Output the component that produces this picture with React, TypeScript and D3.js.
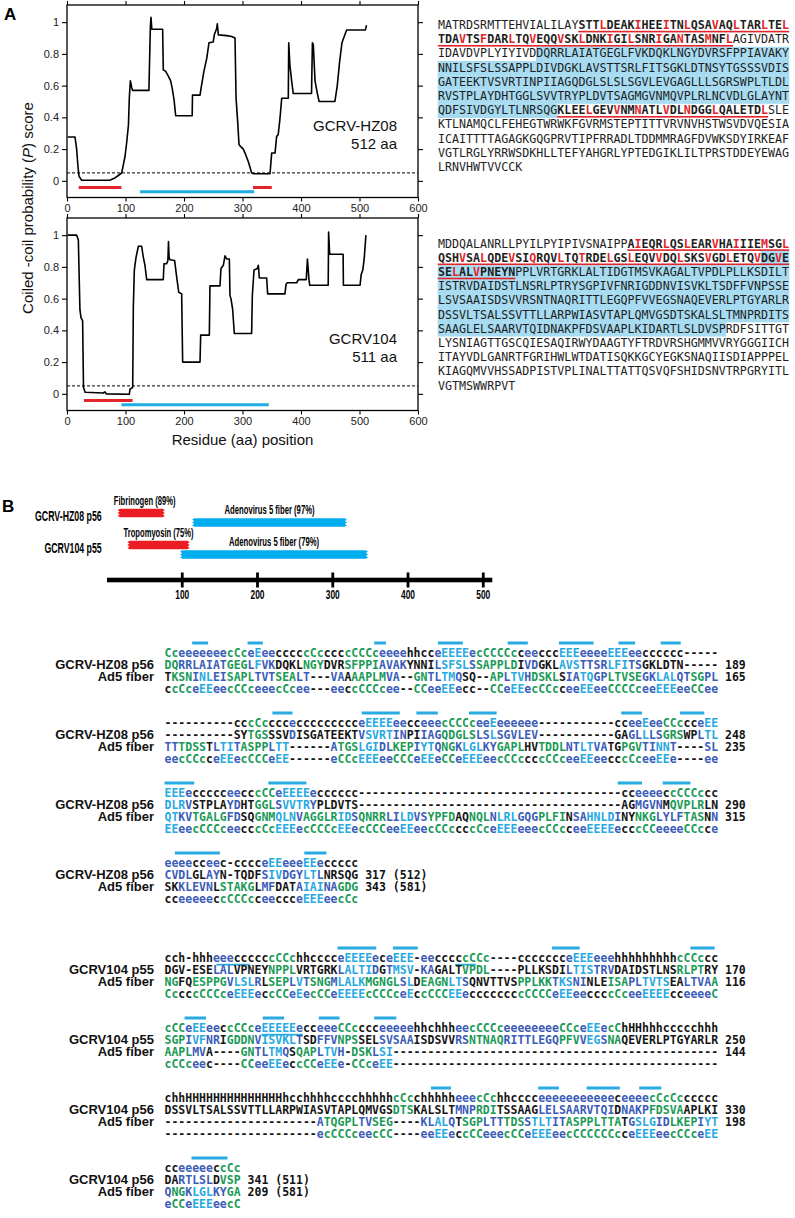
import React, { useEffect, useRef } from 'react';
import * as d3 from 'd3';

const SANS = "'Liberation Sans', Arial, Helvetica, sans-serif";
const NARROW = "'Liberation Sans Narrow', 'Liberation Sans', Arial, sans-serif";
const MONO = "'DejaVu Sans Mono', monospace";

const RED = '#e3242b';
const BLUE = '#1eade4';
const HILITE = '#a6dbf1';
const BARBLUE = '#29abe2';

// ---------- panel A: coiled-coil probability profiles ----------
const xTicks = [0, 100, 200, 300, 400, 500, 600];
const yTicks = [0, 0.2, 0.4, 0.6, 0.8, 1];
const cutoff = 0.05;

const hz08Profile: [number, number][] = [
  [1, 0.276], [13.7, 0.276], [16.5, 0.2], [18.5, 0.1], [20.5, 0.03], [25, 0.004], [73, 0.004],
  [82, 0.018], [90, 0.04], [93.5, 0.05], [99, 0.15], [102, 0.24], [105, 0.35], [106.5, 0.52],
  [108.3, 0.63], [110.5, 0.59], [112, 0.57], [140, 0.57], [142.5, 0.97], [143.6, 1.03], [145, 0.955],
  [163.5, 0.955], [164.6, 0.7], [168.7, 0.69], [173.2, 0.66], [177.2, 0.63], [180, 0.58], [183, 0.51],
  [185.8, 0.41], [214, 0.41], [214.5, 0.54], [227.4, 0.54], [229, 0.58], [231.3, 0.63], [234, 0.69],
  [238.8, 0.77], [242.7, 0.87], [250, 0.875], [251.8, 0.92], [255.8, 0.96], [257, 0.99], [258.7, 0.92],
  [273, 0.915], [281.5, 0.91], [287.2, 0.9], [289, 0.52], [291.8, 0.37], [294, 0.23], [295.7, 0.22],
  [301.4, 0.2], [304.3, 0.175], [310, 0.12], [315.7, 0.05], [318.5, 0.045], [347, 0.045], [349.9, 0.175],
  [355.6, 0.175], [358.4, 0.28], [361, 0.29], [364, 0.39], [367, 0.52], [378.3, 0.52], [379, 0.87],
  [381, 0.73], [384, 0.63], [386.8, 0.55], [418, 0.55], [419.5, 0.87], [421, 0.86], [424, 0.63],
  [428, 0.55], [431, 0.5], [458, 0.5], [462, 0.6], [466, 0.75], [470, 0.87], [478, 0.95], [510, 0.95],
  [512, 0.98],
];

const gcrv104Profile: [number, number][] = [
  [1, 1.0], [16.5, 1.0], [19.4, 0.97], [22.1, 0.53], [23.9, 0.48], [26.7, 0.46], [28.2, 0.04], [31, 0.01],
  [62, 0.005], [64.9, 0.012], [67, 0.0], [106.5, -0.003], [107.7, 0.03], [112.3, 0.04], [113.4, 0.55],
  [115.1, 0.78], [118, 0.86], [122, 0.93], [127.6, 0.93], [130.5, 0.86], [133.3, 0.81], [136.2, 0.72],
  [164.6, 0.72], [165.8, 0.82], [170.3, 0.82], [172.5, 0.84], [173.5, 0.96], [174.5, 0.86], [176, 0.845],
  [184, 0.84], [187, 0.75], [191, 0.64], [196, 0.63], [197.7, 0.2], [227.4, 0.2], [228.5, 0.37],
  [243.3, 0.37], [244.4, 0.68], [261.5, 0.68], [263.2, 0.79], [267.2, 0.81], [270.1, 0.87], [273, 0.85],
  [277.5, 0.85], [278.6, 0.62], [280.3, 0.6], [283.2, 0.53], [286, 0.38], [315.6, 0.38], [316.8, 0.62],
  [319.7, 0.78], [325.4, 0.79], [327.1, 0.81], [328.8, 0.73], [341.3, 0.73], [343, 0.63], [372.6, 0.63],
  [374.4, 0.69], [376.6, 0.7], [392.6, 0.7], [395.5, 0.72], [409, 0.72], [411, 0.85], [413.6, 0.72],
  [415, 0.684], [446.5, 0.684], [447.2, 1.02], [449, 0.88], [472, 0.88], [472.5, 0.684], [501, 0.684],
  [502.8, 0.75], [505.6, 0.78], [508, 0.85], [511, 1.0],
];

const hz08Segments = [
  { start: 20, end: 93, kind: 'coil' },
  { start: 318, end: 350, kind: 'coil' },
  { start: 125, end: 320, kind: 'fiber' },
];
const gcrv104Segments = [
  { start: 29, end: 112, kind: 'coil' },
  { start: 93, end: 345, kind: 'fiber' },
];

// ---------- panel A: sequences ----------
const hz08Lines = [
  'MATRDSRMTTEHVIALILAYSTTLDEAKIHEEITNLQSAVAQLTARLTEL',
  'TDAVTSFDARLTQVEQQVSKLDNKIGILSNRIGANTASMNFLAGIVDATR',
  'IDAVDVPLYIYIVDDQRRLAIATGEGLFVKDQKLNGYDVRSFPPIAVAKY',
  'NNILSFSLSSAPPLDIVDGKLAVSTTSRLFITSGKLDTNSYTGSSSVDIS',
  'GATEEKTVSVRTINPIIAGQDGLSLSLSGVLEVGAGLLLSGRSWPLTLDL',
  'RVSTPLAYDHTGGLSVVTRYPLDVTSAGMGVNMQVPLRLNCVDLGLAYNT',
  'QDFSIVDGYLTLNRSQGKLEELGEVVNMNATLVDLNDGGLQALETDLSLE',
  'KTLNAMQCLFEHEGTWRWKFGVRMSTEPTITTVRVNVHSTWSVDVQESIA',
  'ICAITTTTAGAGKGQGPRVTIPFRRADLTDDMMRAGFDVWKSDYIRKEAF',
  'VGTLRGLYRRWSDKHLLTEFYAHGRLYPTEDGIKLILTPRSTDDEYEWAG',
  'LRNVHWTVVCCK',
];
const hz08Coil: [number, number][] = [[20, 91], [317, 346]];
const hz08Fiber: [number, number][] = [[114, 316]];
const hz08Heptad = [23, 28, 32, 35, 39, 42, 46, 49, 53, 56, 60, 63, 67, 70, 74, 77, 81, 84, 88, 91,
  321, 325, 328, 332, 335, 339, 346];

const gcrv104Lines = [
  'MDDQALANRLLPYILPYIPIVSNAIPPAIEQRLQSLEARVHAIIIEMSGL',
  'QSHVSALQDEVSIQRQVLTQTRDELGSLEQVVDQLSKSVGDLETQVDGVE',
  'SELALVPNEYNPPLVRTGRKLALTIDGTMSVKAGALTVPDLPLLKSDILT',
  'ISTRVDAIDSTLNSRLPTRYSGPIVFNRIGDDNVISVKLTSDFFVNPSSE',
  'LSVSAAISDSVVRSNTNAQRITTLEGQPFVVEGSNAQEVERLPTGYARLR',
  'DSSVLTSALSSVTTLLARPWIASVTAPLQMVGSDTSKALSLTMNPRDITS',
  'SAAGLELSAARVTQIDNAKPFDSVAAPLKIDARTLSLDVSPRDFSITTGT',
  'LYSNIAGTTGSCQIESAQIRWYDAAGTYFTRDVRSHGMMVVRYGGGIICH',
  'ITAYVDLGANRTFGRIHWLWTDATISQKKGCYEGKSNAQIISDIAPPPEL',
  'KIAGQMVVHSSADPISTVPLINALTTATTQSVQFSHIDSNVTRPGRYITL',
  'VGTMSWWRPVT',
];
const gcrv104Coil: [number, number][] = [[27, 110]];
const gcrv104Fiber: [number, number][] = [[96, 340]];
const gcrv104Heptad = [28, 32, 35, 39, 42, 46, 49, 53, 56, 60, 63, 67, 70, 74, 77, 81, 84, 88, 91, 95, 98,
  102, 105];

// ---------- panel B: domain map ----------
const domainTicks = [100, 200, 300, 400, 500];
const domainRows = ['GCRV-HZ08 p56', 'GCRV104 p55'];
const hz08Domains = [
  { name: 'Fibrinogen (89%)', start: 17, end: 74, kind: 'coil' },
  { name: 'Adenovirus 5 fiber (97%)', start: 116, end: 316, kind: 'fiber' },
];
const gcrv104Domains = [
  { name: 'Tropomyosin (75%)', start: 30, end: 107, kind: 'coil' },
  { name: 'Adenovirus 5 fiber (79%)', start: 100, end: 344, kind: 'fiber' },
];

// ---------- panel B: alignments ----------
type Block = { ss1: string; seq1: string; seq2: string; ss2: string; n1: string; n2: string;
  bars: [number, number][]; under?: [number, number][]; label1: string };

const hz08Blocks: Block[] = [
  {
    ss1: ['Cceeeeeeec', 'CceEeecccc', 'cCcccccCCC', 'ceeeehhcce', 'EEEEecCCCC', 'cceecccEEE', 'eeeeEEEeec', 'ccccc-----'].join(''),
    seq1: 'DQRRLAIATGEGLFVKDQKLNGYDVRSFPPIAVAKYNNILSFSLSSAPPLDIVDGKLAVSTTSRLFITSGKLDTN-----',
    seq2: 'TKSNINLEISAPLTVTSEALT---VAAAAPLMVA--GNTLTMQSQ--APLTVHDSKLSIATQGPLTVSEGKLALQTSGPL',
    ss2: ['ccCceEEeec', 'CCceeecCce', 'e---eeccCC', 'Ccee--CCee', 'EEecc--CCe', 'EEecCCccee', 'EEeeCCCCce', 'eEEEeeCCee'].join(''),
    n1: '189', n2: '165', label1: 'GCRV-HZ08 p56',
    bars: [[4, 6.3], [12, 14.2], [30.3, 32], [39.5, 43.1], [49.6, 52.5], [57, 62], [65.6, 68], [71.7, 74.6]],
  },
  {
    ss1: ['----------', 'cccCccccec', 'cccccccceE', 'EEEeecceee', 'cCCCceeEee', 'eeee------', '-----cceeE', 'eeCCccceEE'].join(''),
    seq1: '----------SYTGSSSVDISGATEEKTVSVRTINPIIAGQDGLSLSLSGVLEV-----------GAGLLLSGRSWPLTL',
    seq2: 'TTTDSSTLTITASPPLTT------ATGSLGIDLKEPIYTQNGKLGLKYGAPLHVTDDLNTLTVATGPGVTINNT----SL',
    ss2: ['eecCCcceEE', 'ecCCCeEE--', '----eCCcEE', 'EeeCCCeEEe', 'CCeEEEeecC', 'CccccCCcee', 'EEeecccCce', 'eEEe----ee'].join(''),
    n1: '248', n2: '235', label1: 'GCRV-HZ08 p56',
    bars: [[15.6, 18.5], [28.5, 34], [36.4, 39.5], [44, 48], [66, 69], [74.5, 78]],
  },
  {
    ss1: ['EEEeccccce', 'ecccCCeEEE', 'Eecccccc--', '----------', '----------', '----------', '------ccee', 'eeccCCCccc'].join(''),
    seq1: 'DLRVSTPLAYDHTGGLSVVTRYPLDVTS--------------------------------------AGMGVNMQVPLRLN',
    seq2: 'QTKVTGALGFDSQGNMQLNVAGGLRIDSQNRRLILDVSYPFDAQNQLNLRLGQGPLFINSAHNLDINYNKGLYLFTASNN',
    ss2: ['EEeecCCCce', 'ecccCcEEEe', 'cCCCcEEecC', 'CCeeEEeecC', 'CccccCceEE', 'EeeecCCcce', 'eEEEEecccC', 'CeeeeCCcce'].join(''),
    n1: '290', n2: '315', label1: 'GCRV-HZ08 p56',
    bars: [[0, 4.3], [15, 20.5], [65.5, 69], [72, 76]],
  },
  {
    ss1: 'eeeecceec-cccceEEeeeEEeccccc',
    seq1: 'CVDLGLAYN-TQDFSIVDGYLTLNRSQG',
    seq2: 'SKKLEVNLSTAKGLMFDATAIAINAGDG',
    ss2: 'cceeeeeccCCCcceeccceEEEeecCc',
    n1: '317 (512)', n2: '343 (581)', label1: 'GCRV-HZ08 p56',
    bars: [[1.5, 8], [20.2, 23.4]],
  },
];

const gcrv104Blocks: Block[] = [
  {
    ss1: ['cch-hhheee', 'ccccccCCch', 'hcccceEEEE', 'eceEEE-eec', 'ccccCCc---', '-ccccccceE', 'EEeeehhhhh', 'hhhhcCCccc'].join(''),
    seq1: 'DGV-ESELALVPNEYNPPLVRTGRKLALTIDGTMSV-KAGALTVPDL----PLLKSDILTISTRVDAIDSTLNSRLPTRY',
    seq2: 'NGFQESPPGVLSLRLSEPLVTSNGMLALKMGNGLSLDEAGNLTSQNVTTVSPPLKKTKSNINLEISAPLTVTSEALTVAA',
    ss2: ['CccccCCCce', 'EEEeccCCeE', 'ecCCeEEEEc', 'CCCceEccCC', 'CEEecccccc', 'ccCCCCeEEe', 'eccccCceeE', 'EEEcceeeeC'].join(''),
    n1: '170', n2: '116', label1: 'GCRV104 p55',
    bars: [[25, 30.6], [33, 36.6], [56, 60], [76, 79.5]],
    under: [[7.5, 12.3], [42, 45]],
  },
  {
    ss1: ['cCCeEEeecc', 'CCceEEEEEe', 'cceeeCCccc', 'ceeeeehhch', 'hheecCCCce', 'eeeeeeeCCc', 'eEEecChHHh', 'hhccccchhh'].join(''),
    seq1: 'SGPIVFNRIGDDNVISVKLTSDFFVNPSSELSVSAAISDSVVRSNTNAQRITTLEGQPFVVEGSNAQEVERLPTGYARLR',
    seq2: ['AAPLMVA---', '-GNTLTMQSQ', 'APLTVH-DSK', 'LSI-------', '----------', '----------', '----------', '----------'].join(''),
    ss2: ['cCCceec---', '-CCeeEEecc', 'CCeEEe-CCc', 'eEE-------', '----------', '----------', '----------', '----------'].join(''),
    n1: '250', n2: '144', label1: 'GCRV104 p55',
    bars: [[2.9, 6], [14.2, 17.3], [22.3, 25.3], [30.3, 33.5]],
    under: [[14, 20]],
  },
  {
    ss1: ['chhHHHHHHH', 'HHHHHHHhcc', 'hhhhcccchh', 'hhhcCcchhh', 'hheeecCchh', 'cccceeeeee', 'eeeeeceeee', 'cCcCcccccc'].join(''),
    seq1: 'DSSVLTSALSSVTTLLARPWIASVTAPLQMVGSDTSKALSLTMNPRDITSSAAGLELSAARVTQIDNAKPFDSVAAPLKI',
    seq2: ['----------', '----------', '--ATQGPLTV', 'SEG----KLA', 'LQTSGPLTTT', 'DSSTLTITAS', 'PPLTTATGSL', 'GIDLKEPIYT'].join(''),
    ss2: ['----------', '----------', '--ecCCCcee', 'cCC----eeE', 'EeccCCeeec', 'CCeEEEeecC', 'CCCCCcceEE', 'EeecCCceEE'].join(''),
    n1: '330', n2: '198', label1: 'GCRV104 p56',
    bars: [[38.5, 41.4], [54, 57], [61, 65.8], [68.6, 71.8]],
  },
  {
    ss1: 'cceeeeeccCc',
    seq1: 'DARTLSLDVSP',
    seq2: 'QNGKLGLKYGA',
    ss2: 'eCCeEEEeecC',
    n1: '341 (511)', n2: '209 (581)', label1: 'GCRV104 p56',
    bars: [[3.9, 9.1]],
  },
];

const inRanges = (i: number, ranges: [number, number][]) => ranges.some(([a, b]) => i >= a && i <= b);

const ssColor = (s: string, i: number) => {
  const ch = s[i];
  if (ch === 'E') return '#27a9e1';
  if (ch === 'e') return '#3b5cb8';
  if (ch === 'C') return '#1a9a56';
  if (ch === 'c') return s[i - 1] === 'C' || s[i + 1] === 'C' ? '#1a9a56' : '#151515';
  return '#151515';
};

type Sel = d3.Selection<SVGGElement, unknown, null, undefined>;

function drawProfile(svg: Sel, top: number, profile: [number, number][], segs: typeof hz08Segments,
  name: string, len: string) {
  const x = d3.scaleLinear().domain([0, 600]).range([67, 418]);
  const y = d3.scaleLinear().domain([-0.105, 1.108]).range([top + 192.5, top]);
  const g = svg.append('g');

  const styleAxis = (a: Sel) => {
    a.select('.domain').remove();
    a.selectAll('line').attr('stroke', '#000').attr('stroke-width', 1.1);
    a.selectAll('text').attr('font-family', SANS).attr('font-size', 11).attr('fill', '#222');
  };

  g.append('g').attr('transform', 'translate(67,0)')
    .call(d3.axisLeft(y).tickValues(yTicks).tickSize(5).tickSizeOuter(0).tickFormat((d) => String(d)))
    .call(styleAxis as any);
  g.append('g').attr('transform', 'translate(418,0)')
    .call(d3.axisRight(y).tickValues(yTicks).tickSize(5).tickSizeOuter(0).tickFormat(() => ''))
    .call(styleAxis as any);
  g.append('g').attr('transform', `translate(0,${top + 192.5})`)
    .call(d3.axisBottom(x).tickValues(xTicks).tickSize(4).tickPadding(3).tickSizeOuter(0))
    .call(styleAxis as any);
  g.append('g').attr('transform', `translate(0,${top})`)
    .call(d3.axisTop(x).tickValues(xTicks).tickSize(4).tickSizeOuter(0).tickFormat(() => ''))
    .call(styleAxis as any);

  g.append('rect').attr('x', 67).attr('y', top).attr('width', 351).attr('height', 192.5)
    .attr('fill', 'none').attr('stroke', '#000').attr('stroke-width', 1.3);

  g.append('line').attr('x1', 67).attr('x2', 418).attr('y1', y(cutoff)).attr('y2', y(cutoff))
    .attr('stroke', '#000').attr('stroke-width', 1).attr('stroke-dasharray', '3,2');

  segs.forEach((s) => {
    const yy = y(s.kind === 'coil' ? -0.042 : -0.068);
    g.append('line').attr('x1', x(s.start)).attr('x2', x(s.end)).attr('y1', yy).attr('y2', yy)
      .attr('stroke', s.kind === 'coil' ? RED : BLUE).attr('stroke-width', 3);
  });

  const line = d3.line<[number, number]>().x((d) => x(d[0])).y((d) => y(d[1]));
  g.append('path').attr('d', line(profile)).attr('fill', 'none').attr('stroke', '#000')
    .attr('stroke-width', 1.6).attr('stroke-linejoin', 'round');

  g.append('text').attr('x', 397).attr('y', top + 126).attr('text-anchor', 'end')
    .attr('font-family', SANS).attr('font-size', 15).attr('fill', '#111').text(name);
  g.append('text').attr('x', 397).attr('y', top + 144).attr('text-anchor', 'end')
    .attr('font-family', SANS).attr('font-size', 15).attr('fill', '#111').text(len);
}

function drawSequence(svg: Sel, lines: string[], coil: [number, number][], fiber: [number, number][],
  heptad: number[], base: number) {
  const cw = 7.02, lh = 14.2, x0 = 438;
  const g = svg.append('g').attr('font-family', MONO).attr('font-size', 11.66);
  lines.forEach((line, r) => {
    const yb = base + r * lh;
    for (let c = 0; c < line.length; c++) {
      const i = r * 50 + c;
      if (inRanges(i, fiber)) {
        g.append('rect').attr('x', x0 + c * cw - 0.3).attr('y', yb - 10.6).attr('width', cw + 0.6)
          .attr('height', lh + 0.2).attr('fill', HILITE);
      }
    }
  });
  lines.forEach((line, r) => {
    const yb = base + r * lh;
    for (let c = 0; c < line.length; c++) {
      const i = r * 50 + c;
      const isCoil = inRanges(i, coil);
      const red = heptad.includes(i);
      if (isCoil) {
        g.append('line').attr('x1', x0 + c * cw - 0.2).attr('x2', x0 + (c + 1) * cw + 0.2)
          .attr('y1', yb + 2.6).attr('y2', yb + 2.6).attr('stroke', RED).attr('stroke-width', 1.6);
      }
      g.append('text').attr('x', x0 + c * cw).attr('y', yb)
        .attr('font-weight', isCoil ? 'bold' : 'normal')
        .attr('fill', red ? RED : '#1e1e1e').text(line[c]);
    }
  });
}

function jagPath(x1: number, x2: number, cy: number, h: number) {
  const n = 6, a = 2.2;
  const pts: [number, number][] = [[x1, cy - h / 2], [x2, cy - h / 2]];
  for (let k = 1; k <= n; k++) pts.push([x2 + (k % 2 ? a : 0), cy - h / 2 + (k * h) / n]);
  pts.push([x1, cy + h / 2]);
  for (let k = n - 1; k >= 1; k--) pts.push([x1 - (k % 2 ? a : 0), cy - h / 2 + (k * h) / n]);
  return 'M' + pts.map((p) => p.join(',')).join('L') + 'Z';
}

function drawDomains(svg: Sel) {
  const xb = d3.scaleLinear().domain([0, 512]).range([107, 492.3]);
  const g = svg.append('g');
  g.append('rect').attr('x', xb(0)).attr('y', 577.7).attr('width', xb(512) - xb(0)).attr('height', 4.6).attr('fill', '#000');
  domainTicks.forEach((t) => {
    g.append('rect').attr('x', xb(t) - 1.4).attr('y', 572.5).attr('width', 2.8).attr('height', 15).attr('fill', '#000');
    g.append('text').attr('x', xb(t)).attr('y', 599).attr('text-anchor', 'middle')
      .attr('font-family', NARROW).attr('font-weight', 'bold').attr('font-size', 12)
      .attr('textLength', 14).attr('lengthAdjust', 'spacingAndGlyphs').text(String(t));
  });
  const rows = [
    { label: domainRows[0], y: 518, doms: hz08Domains, lw: 66.7 },
    { label: domainRows[1], y: 550, doms: gcrv104Domains, lw: 57.3 },
  ];
  const labelW: Record<string, number> = {
    'Fibrinogen (89%)': 61.7, 'Tropomyosin (75%)': 70, 'Adenovirus 5 fiber (97%)': 90, 'Adenovirus 5 fiber (79%)': 90,
  };
  rows.forEach((row) => {
    g.append('text').attr('x', 101.7).attr('y', row.y + 3).attr('text-anchor', 'end')
      .attr('font-family', NARROW).attr('font-weight', 'bold').attr('font-size', 14)
      .attr('textLength', row.lw).attr('lengthAdjust', 'spacingAndGlyphs').text(row.label);
    row.doms.forEach((d) => {
      const coil = d.kind === 'coil';
      const cy = row.y + (coil ? -5 : 4.5);
      g.append('path').attr('d', jagPath(xb(d.start), xb(d.end), cy, 8.4))
        .attr('fill', coil ? '#ec1c24' : '#00adef');
      const lx = coil ? xb(d.start) - 6 : (xb(d.start) + xb(d.end)) / 2 - 45;
      g.append('text').attr('x', lx).attr('y', cy - 8.4)
        .attr('font-family', NARROW).attr('font-weight', 'bold').attr('font-size', 12.5)
        .attr('textLength', labelW[d.name]).attr('lengthAdjust', 'spacingAndGlyphs').text(d.name);
    });
  });
}

function drawBlock(svg: Sel, b: Block, base: number) {
  const x0 = 164.5, cw = 6.92, lh = 12;
  const g = svg.append('g');
  b.bars.forEach(([s, e]) => {
    g.append('rect').attr('x', x0 + s * cw).attr('y', base - 15.5).attr('width', (e - s) * cw)
      .attr('height', 3).attr('fill', BARBLUE);
  });
  (b.under || []).forEach(([s, e]) => {
    g.append('rect').attr('x', x0 + s * cw).attr('y', base + 1.8).attr('width', (e - s) * cw)
      .attr('height', 1.8).attr('fill', BARBLUE);
  });
  const rows = [b.ss1, b.seq1, b.seq2, b.ss2];
  const ref = [b.ss1, b.ss1, b.ss2, b.ss2];
  const t = g.append('g').attr('font-family', MONO).attr('font-size', 11.5).attr('font-weight', 'bold');
  rows.forEach((s, r) => {
    const yb = base + r * lh;
    for (let i = 0; i < s.length; i++) {
      const ch = s[i];
      t.append('text').attr('x', x0 + i * cw).attr('y', yb)
        .attr('fill', ch === '-' ? '#151515' : ssColor(ref[r], i)).text(ch);
    }
  });
  t.append('text').attr('x', x0 + (b.seq1.length + 1) * cw).attr('y', base + lh).attr('fill', '#111').text(b.n1);
  t.append('text').attr('x', x0 + (b.seq2.length + 1) * cw).attr('y', base + 2 * lh).attr('fill', '#111').text(b.n2);
  const lab = g.append('g').attr('font-family', SANS).attr('font-weight', 'bold').attr('font-size', 13)
    .attr('text-anchor', 'end').attr('fill', '#111');
  lab.append('text').attr('x', 154).attr('y', base + lh).text(b.label1);
  lab.append('text').attr('x', 154).attr('y', base + 2 * lh).text('Ad5 fiber');
}

export default function App() {
  const ref = useRef<SVGSVGElement>(null);

  useEffect(() => {
    const root = d3.select(ref.current);
    root.selectAll('*').remove();
    const svg = root.append('g') as unknown as Sel;

    svg.append('text').attr('x', 4).attr('y', 20).attr('font-family', SANS).attr('font-weight', 'bold')
      .attr('font-size', 17).text('A');
    svg.append('text').attr('x', 2).attr('y', 512).attr('font-family', SANS).attr('font-weight', 'bold')
      .attr('font-size', 17).text('B');

    drawProfile(svg, 5, hz08Profile, hz08Segments, 'GCRV-HZ08', '512 aa');
    drawProfile(svg, 218, gcrv104Profile, gcrv104Segments, 'GCRV104', '511 aa');

    const yt = svg.append('text').attr('transform', 'translate(33,208) rotate(-90)').attr('text-anchor', 'middle')
      .attr('font-family', SANS).attr('font-size', 15).attr('fill', '#111');
    yt.append('tspan').text('Coiled -coil probability (');
    yt.append('tspan').attr('font-style', 'italic').text('P');
    yt.append('tspan').text(') score');
    svg.append('text').attr('x', 242.5).attr('y', 445).attr('text-anchor', 'middle')
      .attr('font-family', SANS).attr('font-size', 15).attr('fill', '#111').text('Residue (aa) position');

    drawSequence(svg, hz08Lines, hz08Coil, hz08Fiber, hz08Heptad, 29);
    drawSequence(svg, gcrv104Lines, gcrv104Coil, gcrv104Fiber, gcrv104Heptad, 247.5);

    drawDomains(svg);

    hz08Blocks.forEach((b, k) => drawBlock(svg, b, 657 + 70 * k));
    gcrv104Blocks.forEach((b, k) => drawBlock(svg, b, 962 + 70 * k));
  }, []);

  return (
    <svg ref={ref} width={795} height={1218}
      style={{ position: 'absolute', left: 0, top: 0, background: '#fff' }} />
  );
}
